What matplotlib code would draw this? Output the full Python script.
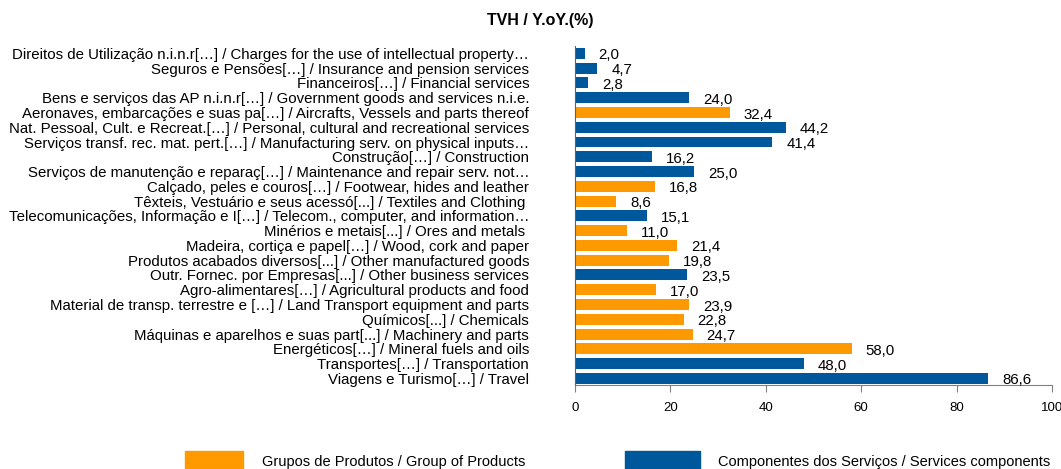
import matplotlib
matplotlib.use("Agg")
from matplotlib import pyplot as plt
from matplotlib.patches import Rectangle

plt.rcParams['font.family'] = ['Liberation Sans', 'DejaVu Sans']

# categories, top to bottom
labels = [
    "Direitos de Utilização n.i.n.r[…] / Charges for the use of intellectual property…",
    "Seguros e Pensões[…] / Insurance and pension services",
    "Financeiros[…] / Financial services",
    "Bens e serviços das AP n.i.n.r[…] / Government goods and services n.i.e.",
    "Aeronaves, embarcações e suas pa[…] / Aircrafts, Vessels and parts thereof",
    "Nat. Pessoal, Cult. e Recreat.[…] / Personal, cultural and recreational services",
    "Serviços transf. rec. mat. pert.[…] / Manufacturing serv. on physical inputs…",
    "Construção[…] / Construction",
    "Serviços de manutenção e reparaç[…] / Maintenance and repair serv. not…",
    "Calçado, peles e couros[…] / Footwear, hides and leather",
    "Têxteis, Vestuário e seus acessó[...] / Textiles and Clothing ",
    "Telecomunicações, Informação e I[…] / Telecom., computer, and information…",
    "Minérios e metais[...] / Ores and metals ",
    "Madeira, cortiça e papel[…] / Wood, cork and paper",
    "Produtos acabados diversos[...] / Other manufactured goods",
    "Outr. Fornec. por Empresas[...] / Other business services",
    "Agro-alimentares[…] / Agricultural products and food",
    "Material de transp. terrestre e […] / Land Transport equipment and parts",
    "Químicos[...] / Chemicals",
    "Máquinas e aparelhos e suas part[...] / Machinery and parts",
    "Energéticos[…] / Mineral fuels and oils",
    "Transportes[…] / Transportation",
    "Viagens e Turismo[…] / Travel",
]
values = [2.0, 4.7, 2.8, 24.0, 32.4, 44.2, 41.4, 16.2, 25.0, 16.8, 8.6, 15.1,
          11.0, 21.4, 19.8, 23.5, 17.0, 23.9, 22.8, 24.7, 58.0, 48.0, 86.6]
# P = product group, S = services component
groups = ["S", "S", "S", "S", "P", "S", "S", "S", "S", "P", "P", "S",
          "P", "P", "P", "S", "P", "P", "P", "P", "P", "S", "S"]

group_names = {"P": "Grupos de Produtos / Group of Products",
               "S": "Componentes dos Serviços / Services components"}
ORANGE = "#FF9900"
BLUE = "#00589C"
colors = {"P": ORANGE, "S": BLUE}

fig = plt.figure(figsize=(10.61, 4.69), dpi=100)
ax = fig.add_axes([575 / 1061, 1 - 385 / 469, (1052 - 575) / 1061, (385 - 46) / 469])

ypos = list(range(len(labels)))
ax.barh(ypos, values, height=0.74, color=[colors[g] for g in groups])

for y, v in zip(ypos, values):
    ax.annotate(("%.1f" % v).replace(".", ","), (v, y), xytext=(10, -1.5),
                textcoords="offset points", va="center", ha="left", fontsize=10.8)

ax.set_ylim(len(labels) - 0.55, -0.5)
ax.set_xlim(0, 100)
ax.set_xticks([0, 20, 40, 60, 80, 100])
ax.set_yticks(ypos)
ax.set_yticklabels(labels, fontsize=10.8)
ax.tick_params(axis='y', length=0, pad=33)
ax.tick_params(axis='x', length=5, color="#808080", labelsize=9.5, pad=7)

for s in ['top', 'right']:
    ax.spines[s].set_visible(False)
ax.spines['bottom'].set_color("#808080")
ax.spines['left'].set_color("#606060")

fig.text(540 / 1061, 1 - 20 / 469, "TVH / Y.oY.(%)", ha="center", va="center",
         fontsize=11.5, fontweight="bold")

# legend drawn at the bottom, partly cut off as in the source
fig.patches.append(Rectangle((185 / 1061, -0.02), 58 / 1061, (469 - 451) / 469 + 0.02,
                             transform=fig.transFigure, color=ORANGE))
fig.text(262 / 1061, 1 - 462 / 469, group_names["P"], ha="left", va="center", fontsize=10.5)
fig.patches.append(Rectangle((625 / 1061, -0.02), 75 / 1061, (469 - 451) / 469 + 0.02,
                             transform=fig.transFigure, color=BLUE))
fig.text(718 / 1061, 1 - 462 / 469, group_names["S"], ha="left", va="center", fontsize=10.5)

fig.savefig("out.png", dpi=100)
